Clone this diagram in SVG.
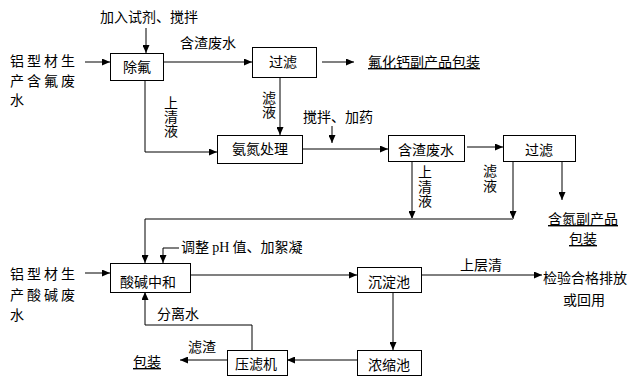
<svg xmlns="http://www.w3.org/2000/svg" width="637" height="387" viewBox="0 0 637 387">
<defs>
<marker id="ah" viewBox="0 0 8 7" refX="8" refY="3.5" markerWidth="8" markerHeight="7" markerUnits="userSpaceOnUse" orient="auto">
<path d="M0,0 L8,3.5 L0,7 z" fill="#000"/>
</marker>
</defs>
<style>
text{font-family:"Noto Sans CJK SC","Noto Sans CJK JP",sans-serif;font-size:14px;fill:#000}
.c{text-anchor:middle}
.u{text-decoration:underline}
.sp{letter-spacing:3px}
.v{writing-mode:tb;glyph-orientation-vertical:0}
.box{fill:#fff;stroke:#000;stroke-width:1}
.ln{fill:none;stroke:#000;stroke-width:1}
.gl{fill:none;stroke:#808080;stroke-width:2}
.ar{marker-end:url(#ah)}
.lat{font-family:"Liberation Serif",serif}
</style>
<rect width="637" height="387" fill="#fff"/>

<g id="connectors">
<path class="ln ar" d="M146,28 V53"/>
<path class="gl ar" d="M85,62 H110"/>
<path class="gl ar" d="M163,62 H252"/>
<path class="gl ar" d="M322,62 H354"/>
<path class="ln ar" d="M280,77 V135"/>
<path class="ln ar" d="M145,80 V152 H217"/>
<path class="ln ar" d="M332,126 V143"/>
<path class="ln ar" d="M302,149 H388"/>
<path class="ln ar" d="M467,147 H503"/>
<path class="ln ar" d="M412,161 V219"/>
<path class="ln ar" d="M513,161 V219"/>
<path class="ln ar" d="M562,161 V200"/>
<path class="gl" d="M145,219 H513"/>
<path class="ln ar" d="M145,219 V263"/>
<path class="ln ar" d="M179,248 H163 V263"/>
<path class="ln ar" d="M85,273 H110"/>
<path class="gl ar" d="M190,275 H357"/>
<path class="ln ar" d="M421,275 H542"/>
<path class="ln ar" d="M393,292 V350"/>
<path class="ln ar" d="M357,360 H287"/>
<path class="gl" d="M252,350 V325"/>
<path class="ln ar" d="M252,325 H145 V292"/>
<path class="ln ar" d="M227,360 H180"/>
</g>

<g id="src1">
<text class="sp" x="10" y="66">铝型材生</text>
<text class="sp" x="10" y="86">产含氟废</text>
<text x="10" y="105">水</text>
</g>
<g id="n-chufu">
<rect class="box" x="110.5" y="53.5" width="53" height="27"/>
<text class="c" x="137" y="72">除氟</text>
</g>
<g id="n-guolv1">
<rect class="box" x="252.5" y="47.5" width="64" height="30"/>
<text class="c" x="283" y="67">过滤</text>
</g>
<g id="n-fuhuagai">
<text class="u" x="368" y="67">氟化钙副产品包装</text>
</g>
<g id="n-andan">
<rect class="box" x="217.5" y="135.5" width="85" height="28"/>
<text class="c" x="260" y="154">氨氮处理</text>
</g>
<g id="n-hanzha">
<rect class="box" x="388.5" y="135.5" width="76" height="26"/>
<text class="c" x="426" y="155">含渣废水</text>
</g>
<g id="n-guolv2">
<rect class="box" x="503.5" y="135.5" width="72" height="26"/>
<text class="c" x="539" y="155">过滤</text>
</g>
<g id="n-handan">
<text class="c u" x="583" y="224">含氮副产品</text>
<text class="c u" x="583" y="244">包装</text>
</g>
<g id="src2">
<text class="sp" x="10" y="279">铝型材生</text>
<text class="sp" x="10" y="300">产酸碱废</text>
<text x="10" y="320">水</text>
</g>
<g id="n-suanjian">
<rect class="box" x="110.5" y="263.5" width="80" height="29"/>
<text class="c" x="148" y="287">酸碱中和</text>
</g>
<g id="n-chendian">
<rect class="box" x="357.5" y="267.5" width="64" height="25"/>
<text class="c" x="389" y="287">沉淀池</text>
</g>
<g id="n-jianyan">
<text x="543" y="283">检验合格排放</text>
<text x="563" y="305">或回用</text>
</g>
<g id="n-nongsuo">
<rect class="box" x="357.5" y="350.5" width="64" height="25"/>
<text class="c" x="389" y="370">浓缩池</text>
</g>
<g id="n-yalv">
<rect class="box" x="227.5" y="350.5" width="60" height="25"/>
<text class="c" x="256" y="369">压滤机</text>
</g>
<g id="n-baozhuang">
<text class="u" x="133" y="367">包装</text>
</g>

<g id="labels">
<text x="100" y="22">加入试剂、搅拌</text>
<text x="180" y="48">含渣废水</text>
<text class="v" x="171" y="96">上清液</text>
<text class="v" x="269" y="91">滤液</text>
<text x="303" y="122">搅拌、加药</text>
<text class="v" x="425" y="165" style="letter-spacing:0.5px">上清液</text>
<text class="v" x="490" y="164" style="letter-spacing:0.5px">滤液</text>
<text x="181" y="252">调整 <tspan class="lat">pH</tspan> 值、加絮凝</text>
<text x="460" y="270">上层清</text>
<text x="157" y="319">分离水</text>
<text x="188" y="352">滤渣</text>
</g>
</svg>
